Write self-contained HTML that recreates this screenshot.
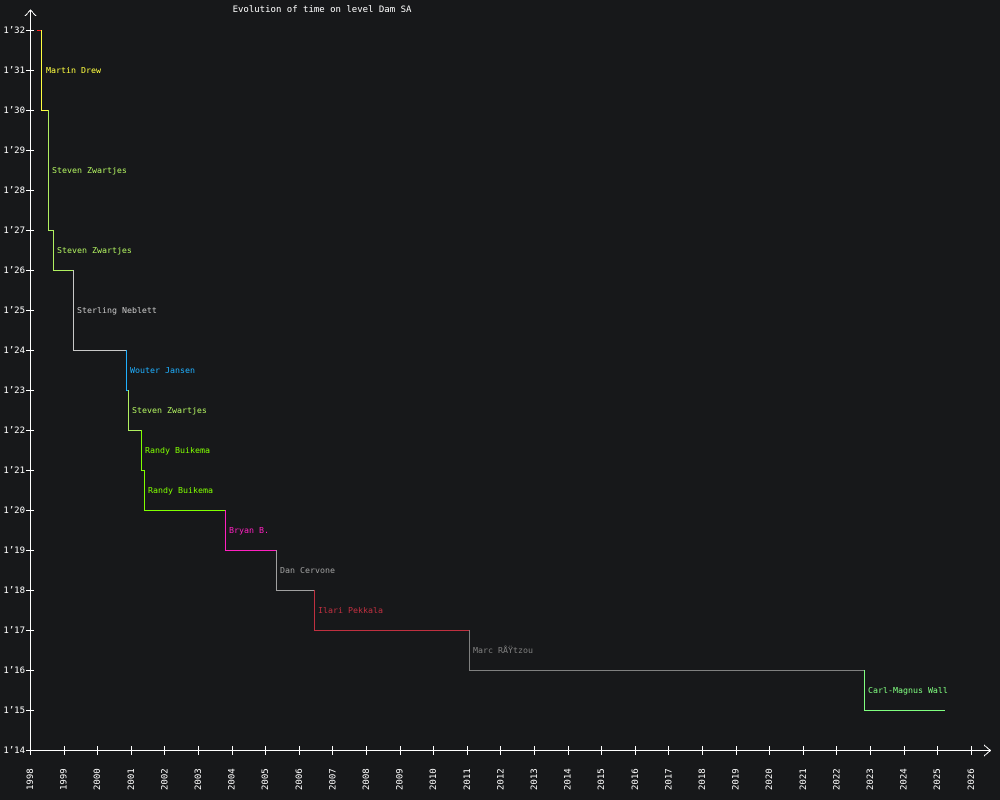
<!DOCTYPE html><html><head><meta charset="utf-8"><style>body{margin:0;background:#17181a}svg{display:block}text{font-family:"DejaVu Sans Mono","Liberation Mono",monospace;font-size:9px}.l text{font-size:8.3px}</style></head><body>
<svg width="1000" height="800" xmlns="http://www.w3.org/2000/svg">
<rect width="1000" height="800" fill="#17181a"/>
<text x="322" y="12" fill="#fff" font-size="11" text-anchor="middle">Evolution of time on level Dam SA</text>
<g stroke="#fff" stroke-width="1" fill="none" shape-rendering="crispEdges">
<line x1="30.5" y1="11" x2="30.5" y2="750"/><path d="M25 16 L30.5 10 L36 16"/>
<line x1="30" y1="750.5" x2="990" y2="750.5"/><path d="M984 745 L990.5 750.5 L984 756"/>
</g>
<g id="yt" stroke="#fff" shape-rendering="crispEdges"></g>
<g id="yl" fill="#fff" text-anchor="end"></g>
<g id="xt" stroke="#fff" shape-rendering="crispEdges"></g>
<g id="xl" fill="#fff"></g>
<g fill="none" stroke-width="1" shape-rendering="crispEdges">
<path d="M37 30.5H41.5" stroke="#ff2020"/>
<path d="M41.5 30V110.5H48.5" stroke="#ffff40"/>
<path d="M48.5 110V230.5H53.5" stroke="#b0f060"/>
<path d="M53.5 230V270.5H73.5" stroke="#b0f060"/>
<path d="M73.5 270V350.5H126.5" stroke="#c8c8c8"/>
<path d="M126.5 350V390.5H128.5" stroke="#20b0ff"/>
<path d="M128.5 390V430.5H141.5" stroke="#b0f060"/>
<path d="M141.5 430V470.5H144.5" stroke="#80ff00"/>
<path d="M144.5 470V510.5H225.5" stroke="#80ff00"/>
<path d="M225.5 510V550.5H276.5" stroke="#ff20c0"/>
<path d="M276.5 550V590.5H314.5" stroke="#a0a0a0"/>
<path d="M314.5 590V630.5H469.5" stroke="#c03040"/>
<path d="M469.5 630V670.5H864.5" stroke="#808080"/>
<path d="M864.5 670V710.5H945" stroke="#80ff80"/>
</g>
<g class="l">
<text x="46" y="73" fill="#ffff40">Martin Drew</text>
<text x="52" y="173" fill="#b0f060">Steven Zwartjes</text>
<text x="57" y="253" fill="#b0f060">Steven Zwartjes</text>
<text x="77" y="313" fill="#c8c8c8">Sterling Neblett</text>
<text x="130" y="373" fill="#20b0ff">Wouter Jansen</text>
<text x="132" y="413" fill="#b0f060">Steven Zwartjes</text>
<text x="145" y="453" fill="#80ff00">Randy Buikema</text>
<text x="148" y="493" fill="#80ff00">Randy Buikema</text>
<text x="229" y="533" fill="#ff20c0">Bryan B.</text>
<text x="280" y="573" fill="#a0a0a0">Dan Cervone</text>
<text x="318" y="613" fill="#c03040">Ilari Pekkala</text>
<text x="473" y="653" fill="#808080">Marc RÅŸtzou</text>
<text x="868" y="693" fill="#80ff80">Carl-Magnus Wall</text>
</g>
<script>
var ns="http://www.w3.org/2000/svg";
function el(p,t,a,txt){var e=document.createElementNS(ns,t);for(var k in a)e.setAttribute(k,a[k]);if(txt)e.textContent=txt;document.getElementById(p).appendChild(e);}
for(var s=14;s<=32;s++){var y=750-(s-14)*40;el("yt","line",{x1:26,x2:34,y1:y+.5,y2:y+.5});el("yl","text",{x:25,y:y+3},"1’"+s);}
for(var i=0;i<=28;i++){var x=30+i*33.6;el("xt","line",{x1:Math.round(x)+.5,x2:Math.round(x)+.5,y1:746,y2:755});el("xl","text",{x:0,y:0,transform:"translate("+(x+3)+",790) rotate(-90)"},""+(1998+i));}
</script>
</svg></body></html>
